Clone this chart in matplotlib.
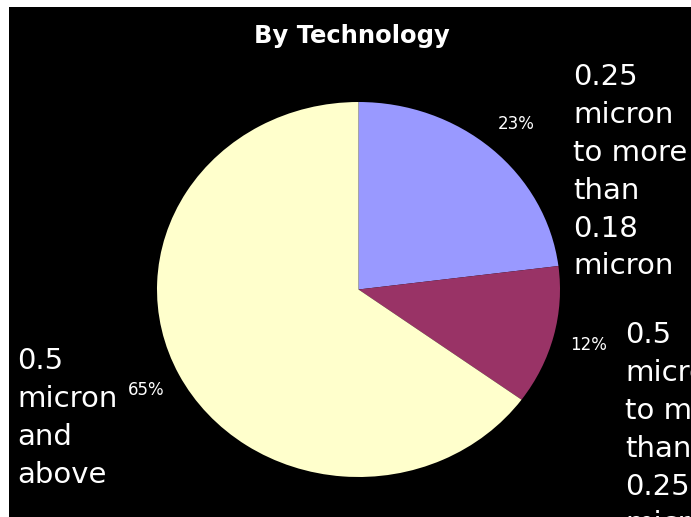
import matplotlib
matplotlib.use("Agg")
import matplotlib.pyplot as plt

W, H = 691, 517

categories = [
    "0.25\nmicron\nto more\nthan\n0.18\nmicron",
    "0.5\nmicron\nto more\nthan\n0.25\nmicron",
    "0.5\nmicron\nand\nabove",
]
shares = [23, 12, 65]
colors = ["#9999FF", "#993366", "#FFFFCC"]
title = "By Technology"

# where each category label block starts (pixels from top-left)
label_xy = [(573, 63), (625, 321), (17, 347)]


def px(x, y):
    return x / W, 1 - y / H


fig = plt.figure(figsize=(W / 100, H / 100), dpi=100, facecolor="white")
plt.rcParams["font.family"] = ["DejaVu Sans"]

# black chart panel
bg = fig.add_axes([9 / W, 0, 1 - 9 / W, 1 - 7 / H])
bg.set_facecolor("black")
bg.set_xticks([])
bg.set_yticks([])
for s in bg.spines.values():
    s.set_visible(False)

# pie area (slightly wider than tall)
left, top, right, bottom = 157, 102, 560, 477
ax = fig.add_axes([left / W, 1 - bottom / H, (right - left) / W, (bottom - top) / H])
ax.pie(shares, colors=colors, startangle=90, counterclock=False,
       autopct="%.0f%%", pctdistance=1.18,
       textprops=dict(color="white", fontsize=12))
ax.set_aspect("auto")
ax.set_xlim(-1, 1)
ax.set_ylim(-1, 1)
ax.axis("off")

fig.text(*px(352, 36), title, color="white", fontsize=17.5, fontweight="bold",
         ha="center", va="center")

for lab, (x, y) in zip(categories, label_xy):
    fig.text(*px(x, y), lab, color="white", fontsize=21, ha="left", va="top",
             linespacing=1.45)

fig.savefig("out.png", dpi=100, facecolor="white")
